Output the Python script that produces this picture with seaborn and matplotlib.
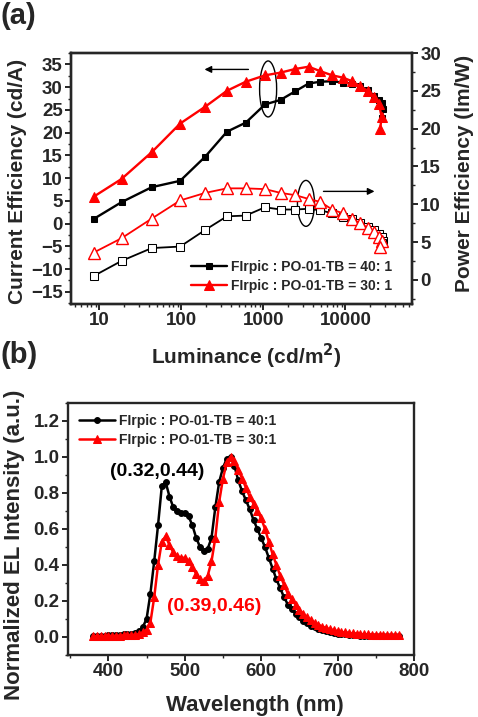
import matplotlib
matplotlib.use("Agg")
import matplotlib.pyplot as plt
import matplotlib.ticker as mticker
from matplotlib.patches import Ellipse
import seaborn as sns
import pandas as pd

# ---- panel (a): efficiency vs luminance ----
lum_40 = [8.5, 18.6, 43.5, 96.6, 195, 359, 610, 1047, 1620, 2450, 3560, 4970,
          6900, 9300, 12100, 15000, 18700, 22300, 25500, 27700, 28700, 28000]
ce_40 = [1.0, 4.7, 8.0, 9.4, 14.7, 20.2, 22.2, 26.2, 27.2, 29.1, 30.8, 31.2,
         31.3, 31.0, 30.8, 30.2, 29.4, 28.1, 27.2, 26.6, 25.1, 23.3]
pe_40 = [0.5, 2.5, 4.2, 4.4, 6.6, 8.4, 8.5, 9.6, 9.3, 9.3, 9.4, 9.2,
         8.8, 8.3, 8.0, 7.5, 7.0, 6.6, 6.1, 5.7, 5.2, 4.9]

lum_30 = [8.5, 18.6, 43.5, 96.6, 195, 359, 610, 1047, 1620, 2450, 3560, 4970,
          6900, 9300, 12100, 15000, 18700, 22300, 25500, 27700, 26500]
ce_30 = [5.9, 9.8, 15.7, 22.0, 25.7, 29.2, 31.2, 32.6, 33.2, 34.0, 34.5, 33.5,
         32.6, 32.1, 31.3, 30.2, 29.2, 27.9, 26.4, 23.5, 20.7]
pe_30 = [3.6, 5.5, 8.1, 10.5, 11.5, 12.1, 12.1, 12.0, 11.5, 11.2, 10.7, 10.3,
         9.3, 8.8, 8.1, 7.5, 6.9, 6.3, 5.7, 5.2, 4.3]

# ---- panel (b): EL spectra ----
wavelength = list(range(380, 785, 5))
el_40 = [0.005, 0.006, 0.007, 0.008, 0.009, 0.010, 0.011, 0.012, 0.014, 0.016,
         0.019, 0.024, 0.032, 0.055, 0.10, 0.24, 0.42, 0.62, 0.84, 0.86,
         0.78, 0.72, 0.70, 0.69, 0.69, 0.67, 0.62, 0.55, 0.50, 0.48,
         0.49, 0.55, 0.72, 0.86, 0.94, 0.99, 1.0, 0.95, 0.87, 0.81,
         0.76, 0.71, 0.65, 0.60, 0.55, 0.50, 0.44, 0.38, 0.32, 0.27,
         0.22, 0.18, 0.155, 0.13, 0.11, 0.09, 0.075, 0.063, 0.053, 0.045,
         0.038, 0.032, 0.027, 0.022, 0.019, 0.016, 0.014, 0.012, 0.010, 0.009,
         0.008, 0.007, 0.006, 0.006, 0.005, 0.005, 0.004, 0.004, 0.004, 0.004,
         0.004]
el_30 = [0.004, 0.004, 0.005, 0.005, 0.006, 0.006, 0.007, 0.008, 0.009, 0.010,
         0.011, 0.013, 0.015, 0.025, 0.04, 0.08, 0.22, 0.40, 0.53, 0.56,
         0.51, 0.47, 0.45, 0.44, 0.44, 0.42, 0.39, 0.35, 0.32, 0.31,
         0.34, 0.42, 0.55, 0.75, 0.88, 0.97, 1.0, 0.98, 0.93, 0.88,
         0.83, 0.78, 0.74, 0.70, 0.66, 0.60, 0.53, 0.46, 0.40, 0.34,
         0.29, 0.24, 0.21, 0.18, 0.15, 0.13, 0.11, 0.095, 0.08, 0.068,
         0.058, 0.05, 0.043, 0.037, 0.032, 0.028, 0.025, 0.022, 0.02, 0.018,
         0.016, 0.015, 0.014, 0.013, 0.012, 0.011, 0.011, 0.010, 0.010, 0.010,
         0.010]

label_40a = "FIrpic : PO-01-TB = 40: 1"
label_30a = "FIrpic : PO-01-TB = 30: 1"
label_40b = "FIrpic : PO-01-TB = 40:1"
label_30b = "FIrpic : PO-01-TB = 30:1"
RED = "#ff0000"

sns.set_style("ticks")
plt.rcParams['font.family'] = ['Liberation Sans', 'DejaVu Sans']
plt.rcParams['font.weight'] = 'bold'
plt.rcParams['axes.labelweight'] = 'bold'
plt.rcParams['axes.linewidth'] = 1.7
plt.rcParams['xtick.direction'] = 'out'
plt.rcParams['ytick.direction'] = 'out'

TICK_FS = 13.5

fig = plt.figure(figsize=(4.78, 7.17), dpi=100)
ax = fig.add_axes([0.1485, 0.576, 0.7135, 0.350])
ax2 = ax.twinx()

df_40 = pd.DataFrame({'L': lum_40, 'CE': ce_40, 'PE': pe_40})
df_30 = pd.DataFrame({'L': lum_30, 'CE': ce_30, 'PE': pe_30})

sns.lineplot(data=df_40, x='L', y='CE', ax=ax, color='black', sort=False,
             estimator=None, marker='s', markersize=5, lw=1.7,
             markeredgecolor='black', label=label_40a)
sns.lineplot(data=df_30, x='L', y='CE', ax=ax, color=RED, sort=False,
             estimator=None, marker='^', markersize=6.5, lw=1.7,
             markeredgecolor=RED, label=label_30a)
sns.lineplot(data=df_40, x='L', y='PE', ax=ax2, color='black', sort=False,
             estimator=None, marker='s', markersize=6, lw=1.3,
             markerfacecolor='white', markeredgecolor='black', legend=False)
sns.lineplot(data=df_30, x='L', y='PE', ax=ax2, color=RED, sort=False,
             estimator=None, marker='^', markersize=8, lw=1.3,
             markerfacecolor='white', markeredgecolor=RED, markeredgewidth=1.0,
             legend=False)

ax.set_xscale('log')
ax.set_xlim(4.5, 65000)
ax.set_ylim(-17.7, 37.5)
ax2.set_ylim(-3.2, 29.8)
ax.set_yticks(range(-15, 40, 5))
ax2.set_yticks(range(0, 35, 5))
ax.yaxis.set_minor_locator(mticker.AutoMinorLocator(2))
ax2.yaxis.set_minor_locator(mticker.AutoMinorLocator(2))
ax.set_xticks([10, 100, 1000, 10000])
ax.xaxis.set_major_formatter(mticker.FuncFormatter(lambda v, p: f"{int(v)}"))
ax.xaxis.set_minor_locator(mticker.LogLocator(base=10, subs=range(2, 10), numticks=20))
ax.xaxis.set_minor_formatter(mticker.NullFormatter())
ax.tick_params(axis='both', which='major', labelsize=TICK_FS, width=1.4, length=4, pad=2)
ax.tick_params(axis='both', which='minor', width=1.0, length=2.5)
ax2.tick_params(axis='y', which='major', labelsize=TICK_FS, width=1.4, length=4, pad=2)
ax2.tick_params(axis='y', which='minor', width=1.0, length=2.5)
for a in (ax, ax2):
    for t in a.get_xticklabels() + a.get_yticklabels():
        t.set_fontweight('bold')
ax.set_xlabel("Luminance (cd/m$^\\mathbf{2}$)", fontsize=15)
ax.set_ylabel("Current Efficiency (cd/A)", fontsize=15)
ax2.set_ylabel("Power Efficiency (lm/W)", fontsize=15)
ax.xaxis.set_label_coords(0.515, -0.15)
ax.yaxis.set_label_coords(-0.13, 0.49)
ax2.yaxis.set_label_coords(1.125, 0.52)
ax.grid(False)
ax2.grid(False)

ax.legend(loc='lower right', bbox_to_anchor=(0.975, 0.0), frameon=False,
          handlelength=2.6, handletextpad=0.3, labelspacing=0.35,
          borderaxespad=0.4, prop={'weight': 'bold', 'size': 10})

# ellipses and arrows
ax.add_patch(Ellipse((0.578, 0.857), 0.050, 0.223, transform=ax.transAxes,
                     fill=False, edgecolor='black', lw=1.0))
ax.add_patch(Ellipse((0.689, 0.401), 0.050, 0.183, transform=ax.transAxes,
                     fill=False, edgecolor='black', lw=1.0))
ax.annotate("", xy=(177, 33.9), xytext=(710, 33.9),
            arrowprops=dict(arrowstyle='-|>', color='black', lw=1.0,
                            mutation_scale=10))
ax2.annotate("", xy=(24500, 11.7), xytext=(5000, 11.7),
             arrowprops=dict(arrowstyle='-|>', color='black', lw=1.0,
                             mutation_scale=10))

fig.text(0.0, 0.997, "(a)", fontsize=21, fontweight='bold', va='top', ha='left')

# ---- panel (b) ----
bx = fig.add_axes([0.142, 0.0865, 0.724, 0.3515])
df_el = pd.DataFrame({'W': wavelength, 'I40': el_40, 'I30': el_30})
sns.lineplot(data=df_el, x='W', y='I40', ax=bx, color='black', estimator=None,
             marker='o', markersize=4.2, lw=1.8, markeredgecolor='black',
             label=label_40b)
sns.lineplot(data=df_el, x='W', y='I30', ax=bx, color=RED, estimator=None,
             marker='^', markersize=5.2, lw=1.8, markeredgecolor=RED,
             label=label_30b)
bx.set_xlim(347, 800)
bx.set_ylim(-0.1, 1.3)
bx.set_xticks([400, 500, 600, 700, 800])
bx.set_yticks([0.0, 0.2, 0.4, 0.6, 0.8, 1.0, 1.2])
bx.yaxis.set_major_formatter(mticker.FormatStrFormatter('%.1f'))
bx.xaxis.set_minor_locator(mticker.MultipleLocator(50))
bx.yaxis.set_minor_locator(mticker.MultipleLocator(0.1))
bx.tick_params(axis='both', which='major', labelsize=TICK_FS, width=1.4, length=4, pad=2)
bx.tick_params(axis='both', which='minor', width=1.0, length=2.5)
for t in bx.get_xticklabels() + bx.get_yticklabels():
    t.set_fontweight('bold')
bx.set_xlabel("Wavelength (nm)", fontsize=16)
bx.set_ylabel("Normalized EL Intensity (a.u.)", fontsize=16)
bx.xaxis.set_label_coords(0.539, -0.16)
bx.yaxis.set_label_coords(-0.125, 0.437)
bx.grid(False)
bx.legend(loc='upper left', frameon=False, handlelength=2.6, handletextpad=0.3,
          labelspacing=0.35, borderaxespad=0.4, prop={'weight': 'bold', 'size': 10})
bx.text(464.5, 0.92, "(0.32,0.44)", color='black', fontsize=14, fontweight='bold',
        ha='center', va='center')
bx.text(538.5, 0.17, "(0.39,0.46)", color=RED, fontsize=14, fontweight='bold',
        ha='center', va='center')

fig.text(0.0, 0.525, "(b)", fontsize=21, fontweight='bold', va='top', ha='left')

fig.savefig("out.png", dpi=100)
